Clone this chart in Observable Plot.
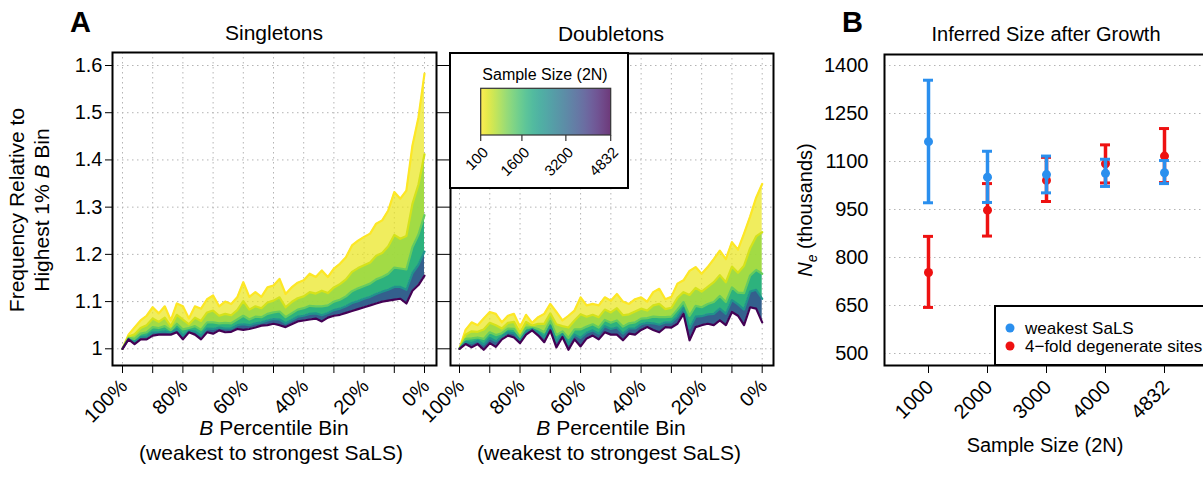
<!DOCTYPE html>
<html><head><meta charset="utf-8">
<script src="https://cdn.jsdelivr.net/npm/d3@7"></script>
<script src="https://cdn.jsdelivr.net/npm/@observablehq/plot@0.6"></script>
<style>
body{margin:0;background:#fff;}
#wrap{position:relative;width:1203px;height:477px;overflow:hidden;background:#fff;}
#wrap svg{position:absolute;left:0;top:0;}
</style></head><body><div id="wrap"></div>
<script>
// ---------------- data ----------------
const percentiles = [100,98,96,94,92,90,88,86,84,82,80,78,76,74,72,70,68,66,64,62,60,58,56,54,52,50,48,46,44,42,40,38,36,34,32,30,28,26,24,22,20,18,16,14,12,10,8,6,4,2,0];
const sampleSizes = [100, 400, 1200, 2400, 4832];

const singletons100  = [1.000,1.030,1.045,1.060,1.070,1.088,1.075,1.090,1.060,1.096,1.090,1.064,1.090,1.085,1.105,1.113,1.090,1.100,1.095,1.109,1.141,1.110,1.120,1.110,1.130,1.134,1.148,1.116,1.130,1.140,1.145,1.159,1.152,1.166,1.152,1.170,1.180,1.194,1.219,1.229,1.237,1.244,1.265,1.272,1.293,1.332,1.318,1.335,1.430,1.490,1.583];
const singletons400  = [1.000,1.026,1.031,1.044,1.050,1.064,1.057,1.066,1.048,1.072,1.062,1.052,1.066,1.059,1.077,1.081,1.070,1.074,1.071,1.082,1.101,1.083,1.090,1.086,1.098,1.102,1.109,1.088,1.099,1.107,1.111,1.120,1.117,1.123,1.118,1.130,1.137,1.147,1.163,1.171,1.177,1.183,1.197,1.203,1.217,1.241,1.233,1.239,1.307,1.348,1.412];
const singletons1200 = [1.000,1.023,1.021,1.032,1.035,1.046,1.044,1.048,1.039,1.053,1.041,1.044,1.048,1.040,1.056,1.056,1.054,1.055,1.054,1.062,1.070,1.062,1.068,1.067,1.074,1.077,1.079,1.067,1.075,1.083,1.086,1.091,1.090,1.090,1.092,1.100,1.104,1.111,1.122,1.128,1.133,1.138,1.147,1.152,1.159,1.172,1.170,1.168,1.215,1.242,1.283];
const singletons2400 = [1.000,1.021,1.014,1.025,1.026,1.035,1.035,1.037,1.034,1.042,1.028,1.038,1.037,1.028,1.043,1.042,1.045,1.043,1.043,1.050,1.052,1.050,1.054,1.056,1.060,1.063,1.062,1.054,1.061,1.068,1.070,1.074,1.075,1.071,1.076,1.082,1.085,1.090,1.097,1.101,1.106,1.110,1.116,1.121,1.125,1.131,1.131,1.125,1.160,1.178,1.206];
const singletons4832 = [1.000,1.020,1.010,1.020,1.020,1.028,1.030,1.030,1.030,1.035,1.020,1.035,1.030,1.020,1.035,1.032,1.039,1.035,1.036,1.042,1.040,1.042,1.045,1.049,1.050,1.053,1.050,1.046,1.052,1.058,1.060,1.062,1.064,1.058,1.066,1.070,1.072,1.076,1.080,1.084,1.088,1.092,1.096,1.100,1.102,1.104,1.106,1.096,1.123,1.135,1.155];

const doubletons100  = [1.000,1.040,1.056,1.050,1.064,1.078,1.074,1.056,1.070,1.074,1.046,1.072,1.055,1.067,1.074,1.095,1.078,1.060,1.070,1.081,1.109,1.092,1.095,1.092,1.109,1.102,1.116,1.100,1.095,1.105,1.109,1.100,1.120,1.127,1.105,1.110,1.138,1.145,1.165,1.173,1.159,1.173,1.190,1.208,1.190,1.226,1.210,1.244,1.280,1.320,1.349];
const doubletons400  = [1.000,1.030,1.037,1.036,1.041,1.055,1.050,1.043,1.055,1.057,1.034,1.057,1.049,1.053,1.053,1.075,1.052,1.048,1.045,1.060,1.073,1.068,1.072,1.067,1.083,1.077,1.086,1.071,1.073,1.079,1.085,1.081,1.092,1.095,1.084,1.087,1.108,1.120,1.114,1.129,1.121,1.131,1.141,1.156,1.141,1.174,1.161,1.176,1.213,1.238,1.247];
const doubletons1200 = [1.000,1.021,1.022,1.024,1.021,1.035,1.029,1.033,1.043,1.042,1.024,1.045,1.045,1.042,1.035,1.059,1.029,1.037,1.023,1.041,1.041,1.047,1.052,1.045,1.061,1.055,1.060,1.047,1.054,1.056,1.064,1.065,1.068,1.067,1.067,1.068,1.083,1.099,1.070,1.091,1.088,1.095,1.099,1.112,1.099,1.130,1.119,1.118,1.155,1.167,1.159];
const doubletons2400 = [1.000,1.015,1.012,1.017,1.009,1.023,1.016,1.026,1.035,1.033,1.018,1.037,1.042,1.035,1.024,1.049,1.016,1.031,1.010,1.030,1.023,1.034,1.039,1.032,1.048,1.042,1.045,1.032,1.043,1.043,1.052,1.055,1.054,1.051,1.056,1.056,1.068,1.086,1.043,1.068,1.069,1.073,1.074,1.085,1.074,1.103,1.094,1.083,1.121,1.125,1.106];
const doubletons4832 = [1.000,1.010,1.003,1.010,0.998,1.012,1.004,1.020,1.028,1.024,1.012,1.030,1.039,1.028,1.014,1.039,1.003,1.025,0.998,1.020,1.005,1.022,1.028,1.020,1.035,1.030,1.030,1.018,1.032,1.030,1.040,1.046,1.040,1.035,1.046,1.045,1.053,1.074,1.018,1.046,1.050,1.053,1.050,1.060,1.050,1.078,1.070,1.050,1.088,1.085,1.056];

const xGridTicks = [100,90,80,70,60,50,40,30,20,10,0];
const xLabelTicks = [100,80,60,40,20,0];
const yTicksA = [1,1.1,1.2,1.3,1.4,1.5,1.6];
const yTickLabelsA = ["1","1.1","1.2","1.3","1.4","1.5","1.6"];
const legendTicks = [100,1600,3200,4832];

const sampleSizesB = ["1000","2000","3000","4000","4832"];
const weakestMid  = [1162,1051,1059,1063,1065];
const weakestLow  = [971,972,1002,1022,1031];
const weakestHigh = [1354,1132,1117,1107,1103];
const fourfoldMid  = [753,948,1041,1093,1117];
const fourfoldLow  = [644,867,975,1033,1034];
const fourfoldHigh = [866,1031,1113,1152,1203];
const yTicksB = [500,650,800,950,1100,1250,1400];

// ---------------- helpers ----------------
const FONT = "'Liberation Sans', Arial, Helvetica, sans-serif";
const GRID = {stroke:"#b4b4b4", strokeOpacity:1, strokeDasharray:"1.5,3.5", strokeWidth:1};
const bandColorSizes = [250, 800, 1800, 3400];
const bandOpacity = [0.7, 0.95, 1, 1];
const colorScale = {type:"linear", domain:[100,4832], scheme:"viridis", reverse:true};

function lineRows(curves){
  const out=[];
  curves.forEach((c,i)=>c.forEach((v,j)=>out.push({n:sampleSizes[i], p:percentiles[j], v})));
  return out;
}
function bandRows(curves){
  const out=[];
  for(let i=0;i<curves.length-1;i++){
    curves[i].forEach((v,j)=>out.push({band:i, n:bandColorSizes[i], op:bandOpacity[i], p:percentiles[j], hi:v, lo:curves[i+1][j]}));
  }
  return out;
}
function addText(svg, o){
  const t = d3.select(svg).append("text")
    .attr("transform", `translate(${o.x},${o.y}) rotate(${o.rotate||0})`)
    .attr("text-anchor", o.anchor||"middle")
    .attr("font-size", o.size||21)
    .attr("font-weight", o.weight||"normal")
    .attr("font-family", FONT).attr("fill","black");
  for(const p of o.parts){
    const s=t.append("tspan").text(p.t);
    if(p.i) s.attr("font-style","italic");
    if(p.size) s.attr("font-size",p.size);
    if(p.dy) s.attr("dy",p.dy);
  }
}

function panelA(curves, frameL, frameR, frameT, insL, insR, showYLabels){
  const marks = [
    Plot.gridX(xGridTicks, GRID),
    Plot.gridY(yTicksA, GRID),
    Plot.areaY(bandRows(curves), {x:"p", y1:"lo", y2:"hi", z:"band", fill:"n", fillOpacity:"op", curve:"linear"}),
    Plot.line(lineRows(curves), {x:"p", y:"v", z:"n", stroke:"n", strokeWidth:2.2, strokeLinejoin:"round"}),
    Plot.frame({stroke:"black", strokeWidth:2}),
    Plot.axisX(xGridTicks, {tickSize:8, tickFormat:()=>"", label:null}),
    Plot.text(xLabelTicks, {x:d=>d, text:d=>d+"%", frameAnchor:"bottom", rotate:-45, textAnchor:"end", dx:6, dy:22, fontSize:20})
  ];
  if(showYLabels){
    marks.push(Plot.axisY(yTicksA, {tickSize:7, tickPadding:3, tickFormat:(d,i)=>yTickLabelsA[i], label:null, fontSize:20}));
  } else {
    marks.push(Plot.axisY(yTicksA, {tickSize:13, tickFormat:()=>"", label:null}));
  }
  return Plot.plot({
    width:1203, height:477,
    marginLeft:frameL, marginRight:1203-frameR, marginTop:frameT, marginBottom:477-365,
    x:{domain:[100,0], insetLeft:insL, insetRight:insR},
    y:{domain:[1,1.6], insetTop:65-frameT, insetBottom:365-348.3},
    color:colorScale,
    style:{background:"none", maxWidth:"none", overflow:"visible", fontFamily:FONT, fontSize:"20px", color:"black"},
    marks
  });
}

const wrap = document.getElementById("wrap");

// ---------------- Panel A: singletons ----------------
const svgS = panelA([singletons100,singletons400,singletons1200,singletons2400,singletons4832], 112, 436, 52, 10, 12, true);
wrap.appendChild(svgS);
addText(svgS,{x:70,y:32,anchor:"start",size:29,weight:"bold",parts:[{t:"A"}]});
addText(svgS,{x:274,y:40,parts:[{t:"Singletons"}]});
addText(svgS,{x:24,y:210,rotate:-90,parts:[{t:"Frequency Relative to"}]});
addText(svgS,{x:49,y:210,rotate:-90,parts:[{t:"Highest 1% "},{t:"B",i:true},{t:" Bin"}]});
addText(svgS,{x:274,y:435,parts:[{t:"B",i:true},{t:" Percentile Bin"}]});
addText(svgS,{x:271,y:460,parts:[{t:"(weakest to strongest SaLS)"}]});

// ---------------- Panel A: doubletons ----------------
const svgD = panelA([doubletons100,doubletons400,doubletons1200,doubletons2400,doubletons4832], 450, 773, 53, 9, 11.3, false);
wrap.appendChild(svgD);
addText(svgD,{x:611,y:41,parts:[{t:"Doubletons"}]});
addText(svgD,{x:611,y:435,parts:[{t:"B",i:true},{t:" Percentile Bin"}]});
addText(svgD,{x:609,y:460,parts:[{t:"(weakest to strongest SaLS)"}]});

// colour legend
{
  const g = d3.select(svgD).append("g");
  g.append("rect").attr("x",450).attr("y",53).attr("width",178).attr("height",135).attr("fill","white").attr("stroke","black").attr("stroke-width",2);
  const defs = d3.select(svgD).append("defs");
  const lg = defs.append("linearGradient").attr("id","vir").attr("x1","0%").attr("x2","100%");
  for(let k=0;k<=20;k++){
    lg.append("stop").attr("offset",(k*5)+"%").attr("stop-color",d3.interpolateViridis(1-k/20)).attr("stop-opacity",0.78);
  }
  const lx = d3.scaleLinear().domain([100,4832]).range([480.7,610.7]);
  g.append("rect").attr("x",480.7).attr("y",88.3).attr("width",130).attr("height",46.7).attr("fill","url(#vir)").attr("stroke","#333").attr("stroke-width",1.2);
  legendTicks.forEach(v=>{
    g.append("line").attr("x1",lx(v)).attr("x2",lx(v)).attr("y1",135).attr("y2",141).attr("stroke","#333").attr("stroke-width",1.2);
    g.append("text").attr("transform",`translate(${lx(v)+5},${150}) rotate(-45)`).attr("text-anchor","end").attr("dy","0.32em")
      .attr("font-size",15).attr("font-family",FONT).text(String(v));
  });
  g.append("text").attr("x",545).attr("y",80).attr("text-anchor","middle").attr("font-size",16).attr("font-family",FONT).text("Sample Size (2N)");
}

// ---------------- Panel B ----------------
const fourfold = sampleSizesB.map((s,i)=>({size:s, mid:fourfoldMid[i], lo:fourfoldLow[i], hi:fourfoldHigh[i]}));
const weakest  = sampleSizesB.map((s,i)=>({size:s, mid:weakestMid[i], lo:weakestLow[i], hi:weakestHigh[i]}));
const RED="#EE1111", BLUE="#2A8FEE";
function errMarks(data, col){
  return [
    Plot.ruleX(data,{x:"size", y1:"lo", y2:"hi", stroke:col, strokeWidth:3.5}),
    Plot.tickY(data,{x:"size", y:"lo", stroke:col, strokeWidth:3}),
    Plot.tickY(data,{x:"size", y:"hi", stroke:col, strokeWidth:3}),
    Plot.dot(data,{x:"size", y:"mid", r:4.5, fill:col, stroke:"none"})
  ];
}
const svgB = Plot.plot({
  width:1215, height:477,
  marginLeft:884, marginRight:8, marginTop:54, marginBottom:112,
  x:{type:"band", domain:sampleSizesB, paddingInner:0.8326, paddingOuter:0.619},
  y:{domain:[500,1400], insetTop:11, insetBottom:12},
  style:{background:"none", maxWidth:"none", overflow:"visible", fontFamily:FONT, fontSize:"20px", color:"black"},
  marks:[
    Plot.gridY(yTicksB, GRID),
    ...errMarks(fourfold, RED),
    ...errMarks(weakest, BLUE),
    Plot.frame({stroke:"black", strokeWidth:2}),
    Plot.axisX({tickSize:8, tickFormat:()=>"", label:null}),
    Plot.text(sampleSizesB,{x:d=>d, text:d=>d, frameAnchor:"bottom", rotate:-45, textAnchor:"end", dx:6, dy:23, fontSize:20}),
    Plot.axisY(yTicksB,{tickSize:0, tickPadding:16, tickFormat:d=>String(d), label:null, fontSize:20})
  ]
});
wrap.appendChild(svgB);
addText(svgB,{x:842,y:32,anchor:"start",size:29,weight:"bold",parts:[{t:"B"}]});
addText(svgB,{x:1046,y:41,size:20,parts:[{t:"Inferred Size after Growth"}]});
addText(svgB,{x:1045,y:452,size:20,parts:[{t:"Sample Size (2N)"}]});
addText(svgB,{x:812,y:210,rotate:-90,size:20,parts:[{t:"N",i:true},{t:"e",i:true,size:14,dy:"5"},{t:" (thousands)",dy:"-5"}]});
{
  const g = d3.select(svgB).append("g");
  g.append("rect").attr("x",995).attr("y",306).attr("width",260).attr("height",59).attr("fill","white").attr("stroke","black").attr("stroke-width",2);
  [[BLUE,"weakest SaLS",328],[RED,"4\u2212fold degenerate sites",346]].forEach(([c,t,y])=>{
    g.append("circle").attr("cx",1010).attr("cy",y).attr("r",4.5).attr("fill",c);
    g.append("text").attr("x",1025).attr("y",y).attr("dy","0.35em").attr("text-anchor","start").attr("font-size",17).attr("font-family",FONT).text(t);
  });
}
</script></body></html>
